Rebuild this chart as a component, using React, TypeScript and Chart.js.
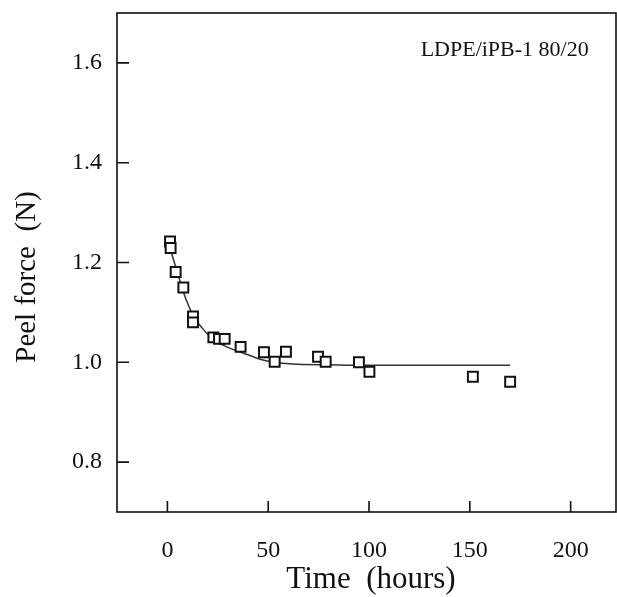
import React, { useEffect, useRef } from "react";
import { Chart, registerables } from "chart.js";

Chart.register(...registerables);

// Measured points: time (hours) vs peel force (N)
const timeHours = [1.3, 1.6, 4.1, 7.9, 12.7, 12.7, 22.8, 25.6, 28.4, 36.3, 47.9, 53.2, 58.8, 74.7, 78.5, 95, 100.2, 151.5, 170];
const peelForce = [1.242, 1.229, 1.181, 1.15, 1.092, 1.08, 1.05, 1.047, 1.047, 1.031, 1.02, 1.001, 1.021, 1.011, 1.001, 1.0, 0.981, 0.971, 0.961];

// Fitted curve
const fitTime = [0.5, 2, 5, 8, 13, 17, 21, 25, 30, 35, 40, 46, 55, 65, 80, 100, 130, 170];
const fitForce = [1.248, 1.22, 1.18, 1.14, 1.092, 1.07, 1.052, 1.04, 1.03, 1.022, 1.015, 1.006, 0.999, 0.996, 0.995, 0.994, 0.994, 0.994];

const xTicks = [0, 50, 100, 150, 200];
const yTicks = [0.8, 1.0, 1.2, 1.4, 1.6];

const annotationText = "LDPE/iPB-1 80/20";
const xTitle = "Time  (hours)";
const yTitle = "Peel force  (N)";

const FONT = "'Liberation Serif', 'Times New Roman', serif";
const INK = "#111111";

const framePlugin = {
  id: "frameAndTicks",
  afterDraw(chart: any) {
    const { ctx, chartArea } = chart;
    const xs = chart.scales.x;
    const ys = chart.scales.y;
    ctx.save();
    ctx.strokeStyle = INK;
    ctx.lineWidth = 1.6;
    ctx.strokeRect(chartArea.left, chartArea.top, chartArea.right - chartArea.left, chartArea.bottom - chartArea.top);
    ctx.beginPath();
    xTicks.forEach((v) => {
      const px = xs.getPixelForValue(v);
      ctx.moveTo(px, chartArea.bottom);
      ctx.lineTo(px, chartArea.bottom - 11);
    });
    yTicks.forEach((v) => {
      const py = ys.getPixelForValue(v);
      ctx.moveTo(chartArea.left, py);
      ctx.lineTo(chartArea.left + 12, py);
    });
    ctx.stroke();
    ctx.fillStyle = INK;
    ctx.font = `22px ${FONT}`;
    ctx.textAlign = "left";
    ctx.textBaseline = "middle";
    ctx.fillText(annotationText, xs.getPixelForValue(125.6), ys.getPixelForValue(1.625));
    // axis titles
    ctx.font = `31px ${FONT}`;
    ctx.textAlign = "center";
    ctx.textBaseline = "middle";
    ctx.fillText(xTitle, 371, 580);
    ctx.translate(27, 277);
    ctx.rotate(-Math.PI / 2);
    ctx.font = `29px ${FONT}`;
    ctx.fillText(yTitle, 0, 0);
    ctx.restore();
  },
};

export default function App() {
  const ref = useRef<HTMLCanvasElement>(null);
  useEffect(() => {
    document.body.style.margin = "0";
    const canvas = ref.current;
    if (!canvas) return;
    const chart = new Chart(canvas, {
      type: "scatter",
      data: {
        datasets: [
          {
            type: "scatter",
            data: timeHours.map((t, i) => ({ x: t, y: peelForce[i] })),
            pointStyle: "rect",
            pointRadius: 7,
            pointBorderWidth: 2,
            pointBorderColor: INK,
            pointBackgroundColor: "#ffffff",
            order: 0,
          },
          {
            type: "line",
            data: fitTime.map((t, i) => ({ x: t, y: fitForce[i] })),
            borderColor: "#333333",
            borderWidth: 1.5,
            pointRadius: 0,
            cubicInterpolationMode: "monotone",
            fill: false,
            order: 1,
          } as any,
        ],
      },
      options: {
        animation: false,
        responsive: false,
        devicePixelRatio: 1,
        layout: { autoPadding: false, padding: { top: 13, right: 1, left: 0, bottom: 0 } },
        plugins: { legend: { display: false }, tooltip: { enabled: false } },
        scales: {
          x: {
            type: "linear",
            min: -25,
            max: 222.5,
            grid: { display: false, drawTicks: false },
            border: { display: false },
            afterBuildTicks: (scale: any) => {
              scale.ticks = xTicks.map((v) => ({ value: v }));
            },
            afterFit: (scale: any) => {
              scale.height = 85;
              scale.paddingLeft = 0;
              scale.paddingRight = 0;
            },
            ticks: {
              padding: 24,
              color: INK,
              font: { family: FONT, size: 24 },
              maxRotation: 0,
              callback: (v: any) => String(v),
            },
          },
          y: {
            type: "linear",
            min: 0.7,
            max: 1.7,
            grid: { display: false, drawTicks: false },
            border: { display: false },
            afterBuildTicks: (scale: any) => {
              scale.ticks = yTicks.map((v) => ({ value: v }));
            },
            afterFit: (scale: any) => {
              scale.width = 117;
              scale.paddingTop = 0;
              scale.paddingBottom = 0;
            },
            ticks: {
              padding: 15,
              color: INK,
              font: { family: FONT, size: 24 },
              callback: (v: any) => Number(v).toFixed(1),
            },
          },
        },
      },
      plugins: [framePlugin],
    });
    return () => chart.destroy();
  }, []);
  return (
    <div style={{ position: "absolute", left: 0, top: 0, width: 617, height: 597, background: "#fff" }}>
      <canvas ref={ref} width={617} height={597} style={{ display: "block" }} />
    </div>
  );
}
